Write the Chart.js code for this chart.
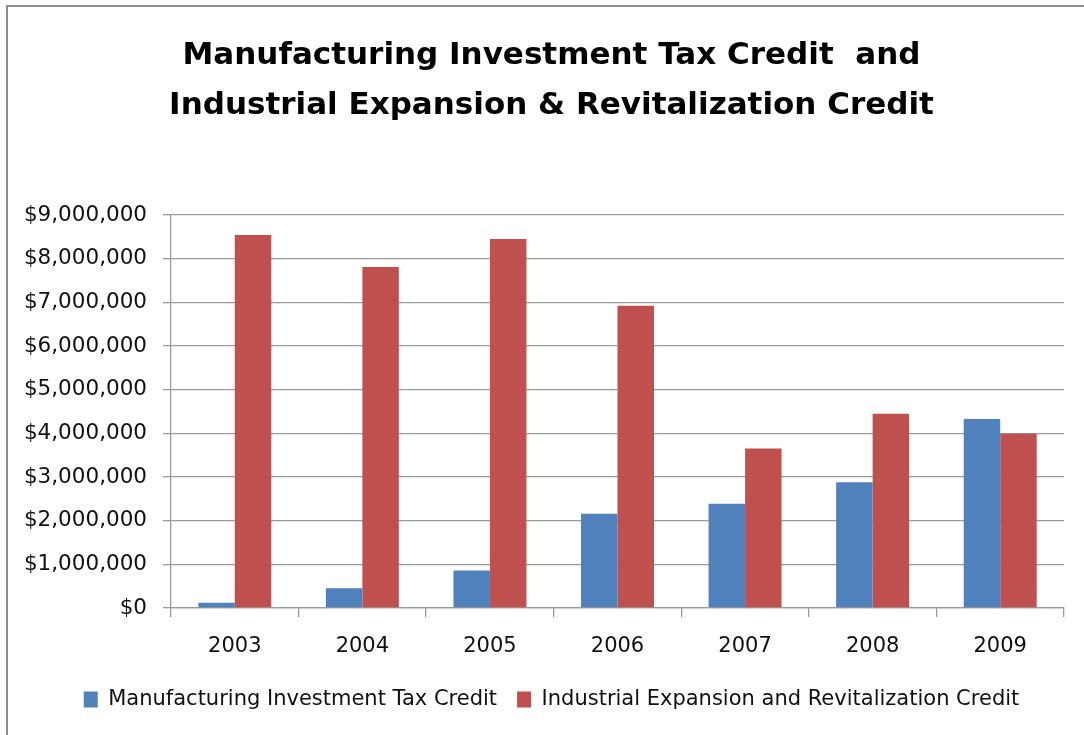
<!DOCTYPE html>
<html>
<head>
<meta charset="utf-8">
<script src="https://cdn.jsdelivr.net/npm/chart.js@4/dist/chart.umd.min.js"></script>
<style>
  html, body { margin: 0; padding: 0; background: #fff; }
  #wrap { position: relative; width: 1084px; height: 735px; overflow: hidden; background: #fff; }
  #c { position: absolute; left: 0; top: 0; }
  .bt { position: absolute; left: 6px; top: 5px; width: 1078px; height: 2px; background: #8c8c8c; }
  .bl { position: absolute; left: 6px; top: 5px; width: 2px; height: 730px; background: #8c8c8c; }
</style>
</head>
<body>
<div id="wrap">
  <canvas id="c" width="1084" height="735"></canvas>
  <div class="bt"></div>
  <div class="bl"></div>
</div>
<script>
const titleLines = ["Manufacturing Investment Tax Credit  and", "Industrial Expansion & Revitalization Credit"];
const years = ["2003", "2004", "2005", "2006", "2007", "2008", "2009"];
const seriesNames = ["Manufacturing Investment Tax Credit", "Industrial Expansion and Revitalization Credit"];
const manufacturingCredit = [120000, 450000, 860000, 2160000, 2390000, 2880000, 4330000];
const industrialCredit = [8540000, 7810000, 8450000, 6920000, 3650000, 4450000, 3990000];
const yTicks = [0, 1000000, 2000000, 3000000, 4000000, 5000000, 6000000, 7000000, 8000000, 9000000];

const FONT = "'DejaVu Sans', 'Open Sans', sans-serif";
const gridColor = '#9a9a9a';

// let the y tick labels extend left of the layout padding (no clipping)
const unclipY = {
  id: 'unclipY',
  afterLayout(chart) { chart.scales.y.left = 0; }
};

new Chart(document.getElementById('c'), {
  type: 'bar',
  data: {
    labels: years,
    datasets: [
      { label: seriesNames[0], data: manufacturingCredit, backgroundColor: '#4F81BD', borderWidth: 0,
        categoryPercentage: 0.572, barPercentage: 1.0 },
      { label: seriesNames[1], data: industrialCredit, backgroundColor: '#C0504D', borderWidth: 0,
        categoryPercentage: 0.572, barPercentage: 1.0 }
    ]
  },
  plugins: [unclipY],
  options: {
    responsive: false,
    animation: false,
    devicePixelRatio: 1,
    layout: { padding: { left: 39, right: 20, top: 0, bottom: 15 } },
    plugins: {
      title: {
        display: true,
        text: titleLines,
        color: '#000',
        font: { family: FONT, size: 31, weight: 'bold', lineHeight: 1.613 },
        padding: { top: 31, bottom: 84 }
      },
      legend: {
        display: true,
        position: 'bottom',
        labels: {
          color: '#111',
          font: { family: FONT, size: 21 },
          boxWidth: 14,
          boxHeight: 16,
          padding: 20
        }
      },
      tooltip: { enabled: false }
    },
    scales: {
      x: {
        grid: { offset: true, drawOnChartArea: false, drawTicks: true, tickLength: 9, color: gridColor, lineWidth: 1.3 },
        border: { display: true, color: gridColor, width: 1.3 },
        ticks: { color: '#111', font: { family: FONT, size: 21 }, padding: 17, maxRotation: 0 },
        afterFit: (s) => { s.height = 61; }
      },
      y: {
        min: 0,
        max: 9000000,
        afterBuildTicks: (s) => { s.ticks = yTicks.map(v => ({ value: v })); },
        grid: { drawOnChartArea: true, drawTicks: true, tickLength: 8, color: gridColor, lineWidth: 1.3 },
        border: { display: true, color: gridColor, width: 1.3 },
        ticks: {
          color: '#111',
          font: { family: FONT, size: 21.5 },
          padding: 16,
          callback: (v) => '$' + Number(v).toLocaleString('en-US')
        },
        afterFit: (s) => { s.width = 132; }
      }
    }
  }
});
</script>
</body>
</html>
